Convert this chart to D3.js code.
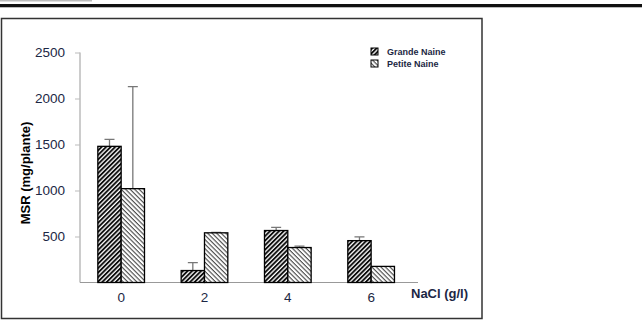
<!DOCTYPE html>
<html>
<head>
  <style>
    body { margin: 0; background: #fff; }
    svg { display: block; }
    text { font-family: "Liberation Sans", Arial, sans-serif; }
  </style>
</head>
<body>
  <svg id="chart" width="642" height="324"></svg>
  <script src="https://d3js.org/d3.v7.min.js"></script>
  <script>
    // NaCl concentrations (g/l)
    const categories = ["0", "2", "4", "6"];
    const seriesNames = ["Grande Naine", "Petite Naine"];
    // MSR (mg/plante)
    const grandeValues = [1480, 130, 565, 455];
    const grandeErrors = [75, 85, 35, 40];
    const petiteValues = [1020, 540, 380, 175];
    const petiteErrors = [1110, 5, 15, 0];
    const yTicks = [500, 1000, 1500, 2000, 2500];

    const textColor = "#1c2744";
    const svg = d3.select("#chart");

    // page decoration
    svg.append("rect").attr("x", 0).attr("y", 0).attr("width", 92).attr("height", 1.5).attr("fill", "#bbb");
    svg.append("rect").attr("x", 0).attr("y", 4).attr("width", 642).attr("height", 3).attr("fill", "#111");
    svg.append("rect").attr("x", 0).attr("y", 7).attr("width", 642).attr("height", 1).attr("fill", "#bbb");
    svg.append("rect")
      .attr("x", 1.5).attr("y", 18.5).attr("width", 480.5).attr("height", 300)
      .attr("fill", "none").attr("stroke", "#333").attr("stroke-width", 1.5);

    // hatch patterns
    const defs = svg.append("defs");
    function hatch(id, angle, w, color) {
      const p = defs.append("pattern")
        .attr("id", id)
        .attr("patternUnits", "userSpaceOnUse")
        .attr("width", 3.2).attr("height", 3.2)
        .attr("patternTransform", "rotate(" + angle + ")");
      p.append("rect").attr("width", 3.2).attr("height", 3.2).attr("fill", "#fff");
      p.append("line").attr("x1", 1).attr("y1", 0).attr("x2", 1).attr("y2", 3.2)
        .attr("stroke", color).attr("stroke-width", w);
    }
    hatch("hatchGrande", 45, 1.8, "#000");
    hatch("hatchPetite", -45, 1.0, "#333");
    const fills = ["url(#hatchGrande)", "url(#hatchPetite)"];

    const x0 = d3.scaleBand().domain(categories).range([79.5, 412.8]).paddingInner(0.44).paddingOuter(0.22);
    const x1 = d3.scaleBand().domain(seriesNames).range([0, x0.bandwidth()]);
    const y = d3.scaleLinear().domain([0, 2500]).range([282.5, 52.5]);

    // y axis
    const yAxis = svg.append("g")
      .attr("transform", "translate(80,0)")
      .call(d3.axisLeft(y).tickValues(yTicks).tickFormat(d3.format("d")).tickSize(5).tickPadding(10));
    yAxis.select(".domain").attr("stroke", "#999").attr("d", "M0," + y(0) + "V" + y(2500));
    yAxis.selectAll(".tick line").attr("stroke", "#bbb");
    yAxis.selectAll(".tick text")
      .attr("fill", textColor).style("font-size", "13.5px");

    // x axis
    const xAxis = svg.append("g")
      .attr("transform", "translate(0," + y(0) + ")")
      .call(d3.axisBottom(x0).tickSize(0).tickPadding(10));
    xAxis.select(".domain").attr("stroke", "#999").attr("d", "M80,0H418");
    xAxis.selectAll(".tick text")
      .attr("fill", textColor).style("font-size", "13.5px");

    // bars
    const rows = categories.map((c, i) => ({
      cat: c,
      vals: [
        { s: seriesNames[0], v: grandeValues[i], e: grandeErrors[i], k: 0 },
        { s: seriesNames[1], v: petiteValues[i], e: petiteErrors[i], k: 1 }
      ]
    }));

    const groups = svg.append("g").selectAll("g")
      .data(rows).enter().append("g")
      .attr("transform", d => "translate(" + x0(d.cat) + ",0)");

    // error bars (drawn first, upward only)
    groups.selectAll(".err")
      .data(d => d.vals.filter(v => v.e > 0))
      .enter().append("path")
      .attr("class", "err")
      .attr("fill", "none").attr("stroke", "#777").attr("stroke-width", 1.3)
      .attr("d", d => {
        const cx = x1(d.s) + x1.bandwidth() / 2;
        return "M" + cx + "," + y(d.v) + "V" + y(d.v + d.e) +
          "M" + (cx - 5) + "," + y(d.v + d.e) + "H" + (cx + 5);
      });

    groups.selectAll(".bar")
      .data(d => d.vals)
      .enter().append("rect")
      .attr("class", "bar")
      .attr("x", d => x1(d.s))
      .attr("y", d => y(d.v))
      .attr("width", x1.bandwidth())
      .attr("height", d => y(0) - y(d.v))
      .attr("fill", d => fills[d.k])
      .attr("stroke", "#000").attr("stroke-width", 1.3);

    // axis titles
    svg.append("text")
      .attr("transform", "translate(30,173) rotate(-90)")
      .attr("text-anchor", "middle")
      .attr("fill", "#000")
      .style("font-size", "13px").style("font-weight", "bold")
      .text("MSR (mg/plante)");
    svg.append("text")
      .attr("x", 411).attr("y", 298)
      .attr("fill", textColor)
      .style("font-size", "13px").style("font-weight", "bold")
      .text("NaCl (g/l)");

    // legend
    const legend = svg.append("g").selectAll("g")
      .data(seriesNames).enter().append("g")
      .attr("transform", (d, i) => "translate(371," + (48 + i * 12) + ")");
    legend.append("rect")
      .attr("width", 7).attr("height", 7)
      .attr("fill", (d, i) => fills[i])
      .attr("stroke", "#000").attr("stroke-width", 1);
    legend.append("text")
      .attr("x", 16).attr("y", 7)
      .attr("fill", textColor)
      .style("font-size", "9px").style("font-weight", "bold")
      .text(d => d);
  </script>
</body>
</html>
